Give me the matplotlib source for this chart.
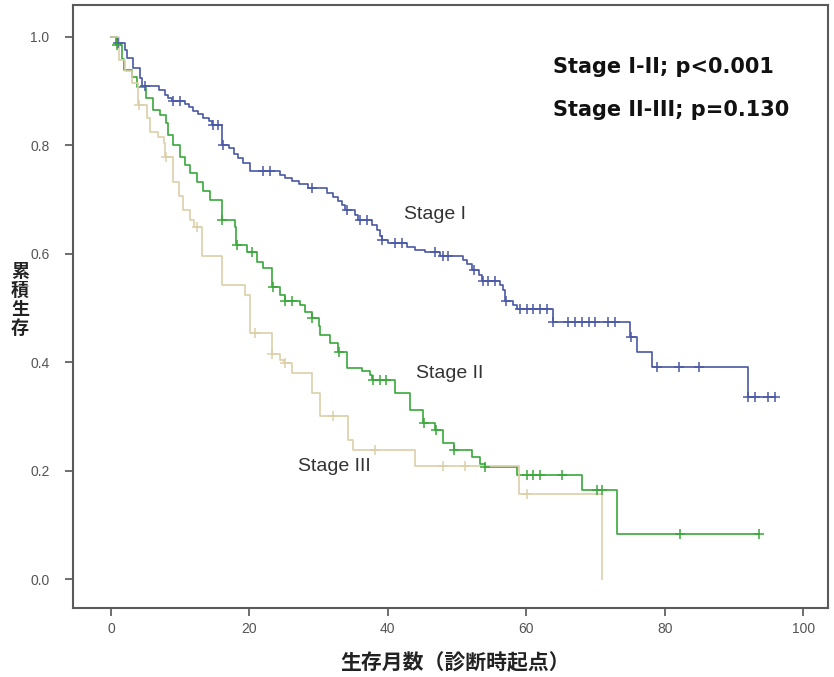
import numpy as np
import matplotlib
matplotlib.use('Agg')
import matplotlib.pyplot as plt

plt.rcParams['font.family'] = ['Liberation Sans', 'Noto Sans CJK JP', 'DejaVu Sans']

# Stage I: event times (months) and survival after each event, censored times
s1_t = [0.8, 2.0, 2.3, 3.2, 4.2, 4.4, 6.9, 7.8, 8.3, 8.8, 10.7, 11.2, 11.9, 12.6, 13.3,
        14.1, 14.6, 16.1, 17.0, 17.7, 18.4, 19.1, 20.1, 24.4, 25.2, 26.1, 27.1, 28.5,
        31.2, 32.1, 32.8, 33.3, 33.8, 35.3, 35.7, 37.7, 38.4, 38.9, 39.1, 40.0, 42.7,
        43.9, 45.4, 47.5, 50.9, 51.4, 52.1, 53.1, 53.6, 56.2, 56.7, 56.9, 58.1, 58.7,
        63.8, 75.0, 76.0, 78.1, 92.0]
s1_s = [0.988, 0.976, 0.961, 0.942, 0.924, 0.910, 0.902, 0.893, 0.887, 0.882, 0.876, 0.870,
        0.864, 0.858, 0.851, 0.845, 0.838, 0.801, 0.795, 0.785, 0.776, 0.767, 0.752, 0.746,
        0.740, 0.734, 0.728, 0.721, 0.712, 0.705, 0.698, 0.690, 0.681, 0.672, 0.662, 0.653,
        0.643, 0.632, 0.625, 0.620, 0.613, 0.607, 0.603, 0.595, 0.589, 0.582, 0.570, 0.561,
        0.549, 0.542, 0.533, 0.512, 0.505, 0.499, 0.474, 0.447, 0.418, 0.392, 0.335]
s1_c = [1.05, 4.9, 9.0, 10.0, 14.8, 15.5, 16.2, 22.0, 23.0, 29.0, 34.1, 36.0, 37.0, 39.2,
        41.0, 42.0, 46.8, 48.0, 48.7, 52.4, 53.8, 54.5, 55.5, 57.1, 59.1, 60.1, 61.0, 62.0,
        63.0, 63.9, 66.0, 67.1, 68.1, 69.0, 70.0, 71.8, 72.8, 75.1, 78.9, 82.0, 85.0, 92.1,
        93.1, 94.9, 96.0]

# Stage II
s2_t = [0.7, 1.6, 1.9, 3.0, 3.8, 5.0, 6.1, 7.1, 8.0, 8.3, 9.0, 10.0, 10.7, 11.4, 12.4,
        13.3, 14.3, 16.0, 17.9, 18.1, 19.6, 21.1, 22.0, 23.2, 23.3, 24.4, 25.1, 27.3, 28.0,
        29.0, 30.0, 30.2, 31.6, 32.8, 34.1, 36.2, 37.4, 37.7, 41.0, 43.2, 45.1, 46.8, 48.0,
        49.5, 52.1, 53.3, 54.0, 58.6, 68.0, 73.1]
s2_s = [0.985, 0.960, 0.939, 0.927, 0.908, 0.887, 0.865, 0.856, 0.841, 0.819, 0.800, 0.779,
        0.764, 0.749, 0.733, 0.715, 0.699, 0.662, 0.650, 0.616, 0.604, 0.585, 0.573, 0.564,
        0.539, 0.524, 0.512, 0.505, 0.493, 0.481, 0.466, 0.450, 0.435, 0.419, 0.389, 0.383,
        0.376, 0.367, 0.343, 0.312, 0.287, 0.275, 0.250, 0.238, 0.226, 0.213, 0.207, 0.192,
        0.165, 0.083]
s2_c = [0.9, 16.1, 18.2, 20.3, 23.4, 25.2, 26.1, 29.1, 33.0, 37.9, 38.9, 39.8, 45.2, 46.9,
        49.6, 54.1, 60.1, 61.0, 62.0, 65.1, 70.2, 70.9, 82.2, 93.6]

# Stage III
s3_t = [1.2, 2.0, 3.0, 3.9, 5.2, 5.6, 6.8, 7.6, 7.8, 9.0, 9.8, 10.4, 11.4, 12.0, 13.1,
        16.0, 19.4, 20.1, 23.2, 24.4, 25.0, 26.1, 29.0, 30.2, 34.3, 35.0, 43.9, 58.9, 70.9]
s3_s = [0.958, 0.937, 0.915, 0.875, 0.850, 0.825, 0.816, 0.804, 0.779, 0.733, 0.707, 0.681,
        0.662, 0.650, 0.596, 0.542, 0.524, 0.453, 0.416, 0.404, 0.398, 0.380, 0.343, 0.300,
        0.256, 0.238, 0.208, 0.157, 0.0]
s3_c = [4.1, 8.0, 12.4, 20.8, 23.3, 25.1, 32.1, 38.2, 48.0, 51.2, 60.1]

stages = [
    ('Stage I', s1_t, s1_s, s1_c, '#4a58a6'),
    ('Stage II', s2_t, s2_s, s2_c, '#3aa83a'),
    ('Stage III', s3_t, s3_s, s3_c, '#dccfa8'),
]

fig = plt.figure(figsize=(8.34, 6.77), dpi=100)
ax = fig.add_axes([73/834, 1-608/677, (828-73)/834, (608-5)/677])

def surv_at(t, times, surv):
    i = np.searchsorted(times, t, side='right')
    return 1.0 if i == 0 else surv[i-1]

for name, t, s, c, col in stages:
    t = np.array(t)
    s = np.array(s)
    end = max(t[-1], max(c))
    xs = np.concatenate(([0.0], t, [end]))
    ys = np.concatenate(([1.0], s, [s[-1]]))
    ax.plot(xs, ys, drawstyle='steps-post', color=col, lw=1.2, zorder=3)
    cy = [surv_at(x, t, s) for x in c]
    ax.plot(c, cy, ls='none', marker='+', ms=7, mew=1.1, color=col, zorder=4)

ax.set_xlim(-5.5, 103.6)
ax.set_ylim(-0.0535, 1.059)
ax.set_xticks([0, 20, 40, 60, 80, 100])
ax.set_yticks([0.0, 0.2, 0.4, 0.6, 0.8, 1.0])
ax.set_yticklabels(['0.0', '0.2', '0.4', '0.6', '0.8', '1.0'])
ax.tick_params(length=6, width=1.2, color='#555555', labelsize=10, labelcolor='#555555', pad=4)
ax.tick_params(axis='y', pad=11)
for sp in ax.spines.values():
    sp.set_color('#5a5a5a')
    sp.set_linewidth(1.5)

ax.text(42.4, 0.673, 'Stage I', fontsize=14, color='#333333', ha='left', va='center')
ax.text(44.0, 0.379, 'Stage II', fontsize=14, color='#333333', ha='left', va='center')
ax.text(27.0, 0.208, 'Stage III', fontsize=14, color='#333333', ha='left', va='center')

ax.text(63.8, 0.945, 'Stage I-II; p<0.001', fontsize=15, fontweight='bold',
        family='DejaVu Sans', color='#111111', ha='left', va='center')
ax.text(63.8, 0.866, 'Stage II-III; p=0.130', fontsize=15, fontweight='bold',
        family='DejaVu Sans', color='#111111', ha='left', va='center')

fig.text(455/834, 1-663/677, '生存月数（診断時起点）', fontsize=15, fontweight='bold',
         family=['Noto Sans CJK JP', 'DejaVu Sans'], ha='center', va='center', color='#222222')
fig.text(20/834, 1-300/677, '累\n積\n生\n存', fontsize=13, fontweight='bold',
         family=['Noto Sans CJK JP', 'DejaVu Sans'], ha='center', va='center',
         linespacing=1.0, color='#222222')

fig.savefig('out.png', dpi=100)
